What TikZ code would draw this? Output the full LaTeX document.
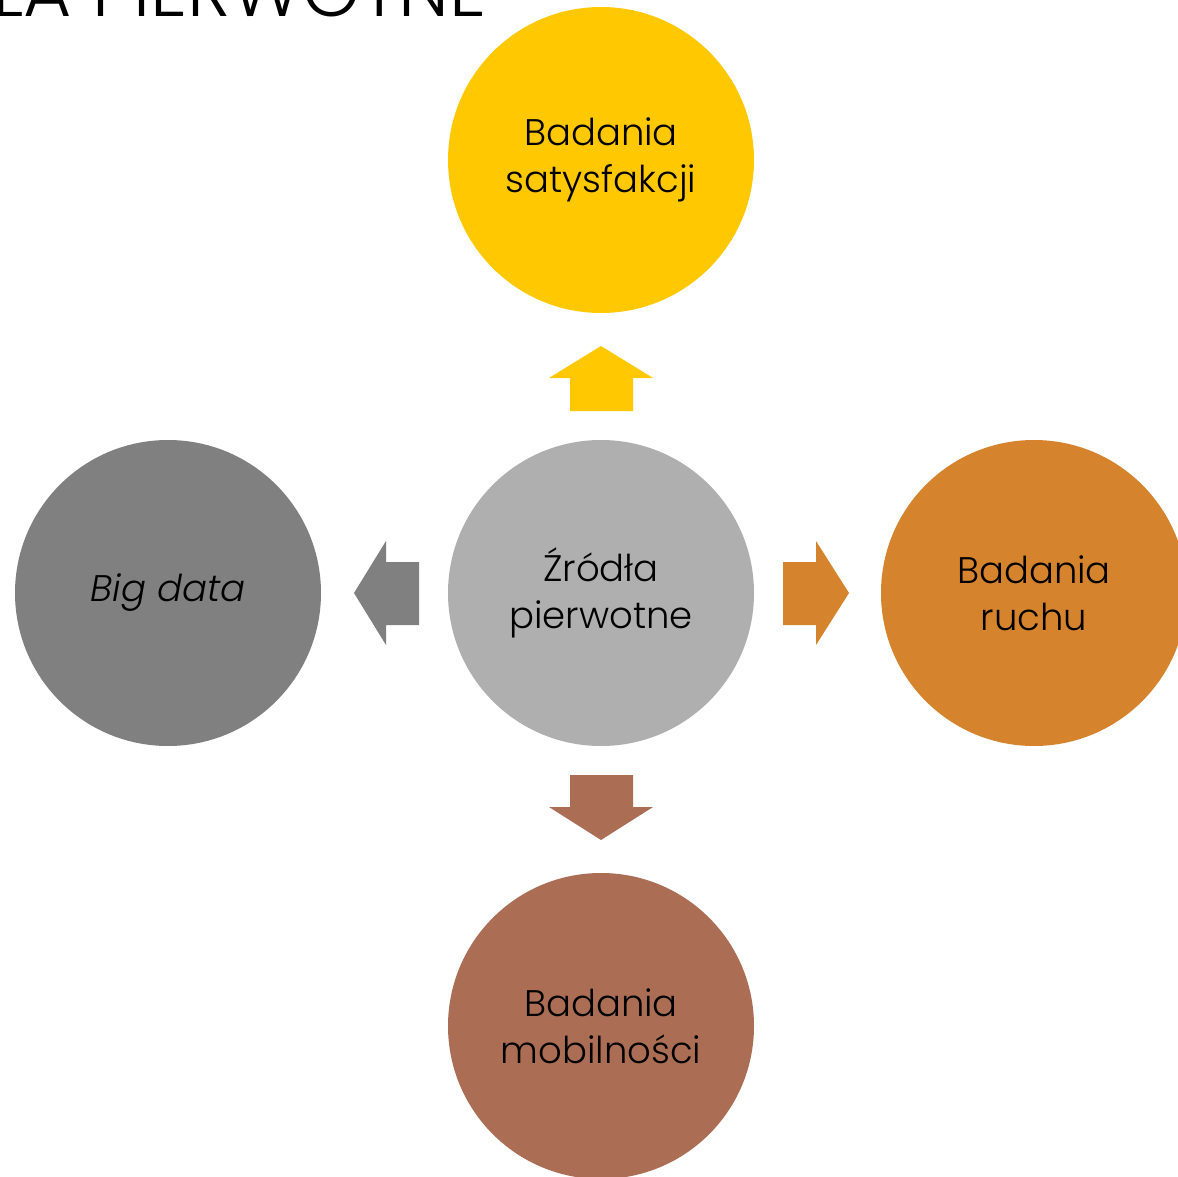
\documentclass[tikz,border=0pt]{standalone}
\usepackage{fontspec}
\setmainfont{Poppins}[UprightFont=* Light,ItalicFont=* Light Italic]
\definecolor{cyel}{HTML}{FFC800}
\definecolor{cmid}{HTML}{AFAFAF}
\definecolor{cgray}{HTML}{808080}
\definecolor{corg}{HTML}{D5832D}
\definecolor{cbrn}{HTML}{AB6E55}
\tikzset{
  bubble/.style={circle,minimum size=306pt,inner sep=0pt,align=center,
    font=\fontsize{37}{47}\selectfont},
}
\begin{document}
\begin{tikzpicture}[x=1pt,y=-1pt]
\useasboundingbox (0,0) rectangle (1178,1177);
\clip (0,0) rectangle (1178,1177);
\fill[white] (0,0) rectangle (1178,1177);
\node[anchor=base east,inner sep=0pt,font=\fontsize{74}{74}\selectfont] (title) at (487,17) {ŹRÓDŁA PIERWOTNE};
\node[bubble,fill=cyel] (top) at (601,160) {Badania\\satysfakcji};
\node[bubble,fill=cmid] (mid) at (601,593) {Źródła\\pierwotne};
\node[bubble,fill=cgray] (left) at (168,593) {\itshape Big data};
\node[bubble,fill=corg] (right) at (1034,593) {Badania\\ruchu};
\node[bubble,fill=cbrn] (bot) at (601,1026) {Badania\\mobilności};
% arrows
\fill[cyel] (570,411) -- (570,378) -- (549,378) -- (601,346) -- (653,378) -- (633,378) -- (633,411) -- cycle;
\fill[cgray] (419,562) -- (386,562) -- (386,541) -- (354,593) -- (386,645) -- (386,625) -- (419,625) -- cycle;
\fill[corg] (783,562) -- (816,562) -- (816,541) -- (849,593) -- (816,645) -- (816,625) -- (783,625) -- cycle;
\fill[cbrn] (570,775) -- (570,807) -- (549,807) -- (601,840) -- (653,807) -- (633,807) -- (633,775) -- cycle;
\end{tikzpicture}
\end{document}
